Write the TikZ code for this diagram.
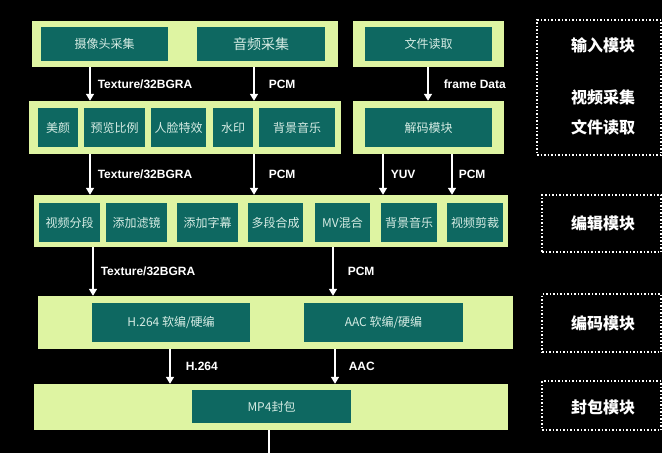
\documentclass[tikz,border=0pt]{standalone}
\usepackage{fontspec}
\setmainfont{Noto Sans CJK SC}
\newfontfamily\latinfont{Liberation Sans}
\usepackage{tikz}
\usetikzlibrary{arrows.meta}
\usetikzlibrary{positioning}
\definecolor{mlime}{RGB}{222,244,162}
\definecolor{mteal}{RGB}{14,104,97}
\definecolor{mpale}{RGB}{214,236,228}
\tikzset{outer/.style = {fill=mlime, inner sep=0}}
\tikzset{inner/.style = {fill=mteal, text=mpale, inner sep=0, minimum height=39pt,
                         font=\fontsize{12}{12}\selectfont}}
\tikzset{flow/.style = {draw=white, line width=1.5pt, -{Triangle[width=8pt,length=7pt]}}}
\tikzset{tag/.style = {text=white, anchor=west, inner sep=0,
                       font=\latinfont\bfseries\fontsize{12}{12}\selectfont}}
\tikzset{module/.style = {draw=white, line width=1.5pt, dash pattern=on 1.5pt off 2pt, inner sep=0}}
\tikzset{modtext/.style = {text=white, font=\bfseries\fontsize{16}{16}\selectfont}}

\begin{document}
\begin{tikzpicture}[x=1pt, y=-1pt]
    \fill [black] (0, 0) rectangle (662, 453);
    \useasboundingbox (0, 0) rectangle (662, 453);

    \node [outer, minimum width=306pt, minimum height=46pt] (capRow) at (185, 44) {};
    \node [inner, minimum width=127pt, minimum height=34pt] (cam) at (104.5, 44) {摄像头采集};
    \node [inner, minimum width=128pt, minimum height=34pt, font=\fontsize{14}{14}\selectfont] (mic) at (261, 44) {音频采集};
    \node [outer, minimum width=151pt, minimum height=46pt] (fileRow) at (428.5, 44) {};
    \node [inner, minimum width=127pt, minimum height=34pt] (file) at (428.5, 44) {文件读取};

    \node [outer, minimum width=312pt, minimum height=53pt] (procRow) at (185, 127.5) {};
    \node [inner, minimum width=40pt] (beauty) at (58, 127.5) {美颜};
    \node [inner, minimum width=61pt] (ratio) at (114.5, 127.5) {预览比例};
    \node [inner, minimum width=55pt] (face) at (178.5, 127.5) {人脸特效};
    \node [inner, minimum width=40pt] (mark) at (233, 127.5) {水印};
    \node [inner, minimum width=76pt] (bgmA) at (297, 127.5) {背景音乐};
    \node [outer, minimum width=151pt, minimum height=53pt] (decRow) at (428.5, 127.5) {};
    \node [inner, minimum width=127pt] (dec) at (428.5, 127.5) {解码模块};

    \node [outer, minimum width=474pt, minimum height=52pt] (editRow) at (271, 221) {};
    \node [inner, minimum width=61pt] (split) at (69.5, 222.5) {视频分段};
    \node [inner, minimum width=61pt] (filter) at (136.5, 222.5) {添加滤镜};
    \node [inner, minimum width=61pt] (subs) at (207.5, 222.5) {添加字幕};
    \node [inner, minimum width=55pt] (merge) at (275.5, 222.5) {多段合成};
    \node [inner, minimum width=55pt] (mvmix) at (342.5, 222.5) {MV混合};
    \node [inner, minimum width=56pt] (bgmB) at (409, 222.5) {背景音乐};
    \node [inner, minimum width=56pt] (crop) at (475, 222.5) {视频剪裁};

    \node [outer, minimum width=475pt, minimum height=53pt] (encRow) at (275.5, 322.5) {};
    \node [inner, minimum width=158pt] (venc) at (171, 322.5) {H.264 软编/硬编};
    \node [inner, minimum width=159pt] (aenc) at (383.5, 322.5) {AAC 软编/硬编};

    \node [outer, minimum width=474pt, minimum height=46pt] (muxRow) at (271, 407) {};
    \node [inner, minimum width=159pt, minimum height=33pt] (mux) at (271.5, 406.5) {MP4封包};

    \coordinate (vA) at (90, 0);
    \coordinate (aA) at (254, 0);
    \coordinate (fA) at (428, 0);
    \coordinate (yA) at (383, 0);
    \coordinate (pA) at (452, 0);
    \coordinate (vB) at (93, 0);
    \coordinate (aB) at (333, 0);
    \coordinate (vC) at (170, 0);
    \coordinate (aC) at (335, 0);
    \coordinate (tail) at (269, 453);

    \draw [flow] (capRow.south -| vA) -- node [tag, right=7pt] (texA) {Texture/32BGRA} (procRow.north -| vA);
    \draw [flow] (capRow.south -| aA) -- node [tag, right=14pt] (pcmA) {PCM} (procRow.north -| aA);
    \draw [flow] (fileRow.south -| fA) -- node [tag, right=15pt] (frm) {frame Data} (decRow.north -| fA);

    \draw [flow] (procRow.south -| vA) -- node [tag, right=7pt] (texB) {Texture/32BGRA} (editRow.north -| vA);
    \draw [flow] (procRow.south -| aA) -- node [tag, right=14pt] (pcmB) {PCM} (editRow.north -| aA);
    \draw [flow] (decRow.south -| yA) -- node [tag, right=7pt] (yuv) {YUV} (editRow.north -| yA);
    \draw [flow] (decRow.south -| pA) -- node [tag, right=6pt] (pcmC) {PCM} (editRow.north -| pA);

    \draw [flow] (editRow.south -| vB) -- node [tag, right=7pt] (texC) {Texture/32BGRA} (encRow.north -| vB);
    \draw [flow] (editRow.south -| aB) -- node [tag, right=14pt] (pcmD) {PCM} (encRow.north -| aB);

    \draw [flow] (encRow.south -| vC) -- node [tag, right=15pt] (h264) {H.264} (muxRow.north -| vC);
    \draw [flow] (encRow.south -| aC) -- node [tag, right=13pt] (aac) {AAC} (muxRow.north -| aC);

    \draw [white, line width=1.5pt] (muxRow.south -| tail) -- (tail);

    \node [module, minimum width=124pt, minimum height=135pt] (inBox) at (599, 87.5) {};
    \node [modtext] (inTitle) at (603, 45) {输入模块};
    \node [modtext] (inCam) at (603, 97) {视频采集};
    \node [modtext] (inFile) at (603, 127) {文件读取};

    \node [module, minimum width=119pt, minimum height=57pt] (editBox) at (601.5, 223.5) {};
    \node [modtext] (editTitle) at (603, 223) {编辑模块};

    \node [module, minimum width=119pt, minimum height=58pt] (encBox) at (601.5, 323) {};
    \node [modtext] (encTitle) at (603, 323) {编码模块};

    \node [module, minimum width=119pt, minimum height=49pt] (muxBox) at (601.5, 405.5) {};
    \node [modtext] (muxTitle) at (603, 407) {封包模块};
\end{tikzpicture}
\end{document}
